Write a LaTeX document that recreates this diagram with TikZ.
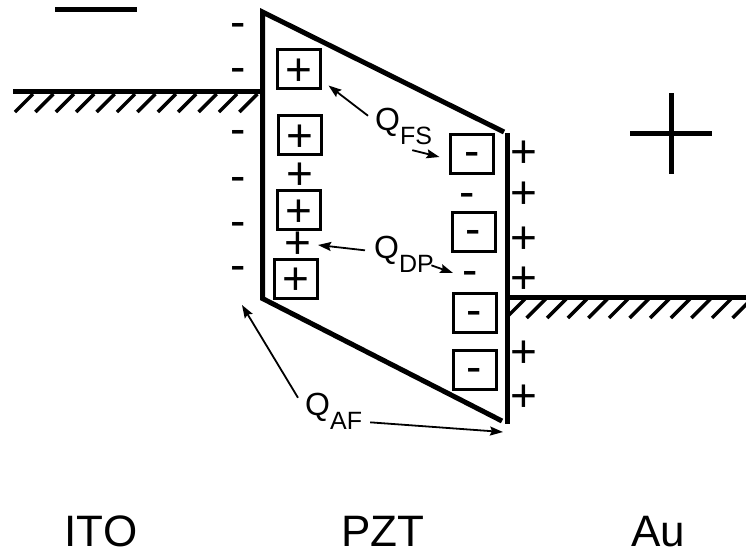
\documentclass[tikz,border=0pt]{standalone}
\usepackage{fontspec}
\setmainfont{Liberation Sans}
\usetikzlibrary{arrows.meta}

% lowered subscript of the charge labels
\newcommand{\qsub}[1]{\raisebox{-14pt}{\fontsize{25}{25}\selectfont #1}}

\tikzset{
  sgn/.style={font=\fontsize{46}{46}\selectfont, inner sep=0pt, outer sep=0pt},
  plussgn/.style={sgn, text height=32pt, text depth=0pt},
  minussgn/.style={sgn, text height=25pt, text depth=0pt},
  chargebox/.style={draw, line width=3pt, minimum width=43pt, minimum height=39pt},
  qlabel/.style={font=\fontsize{32}{32}\selectfont, inner sep=0pt, anchor=base west},
  matlabel/.style={font=\fontsize{44}{44}\selectfont, inner sep=0pt, anchor=base},
  wall/.style={line width=5pt},
  electrode/.style={line width=4.5pt},
  hatch/.style={line width=3.5pt},
  qarrow/.style={->, line width=1.8pt},
}

\begin{document}
\begin{tikzpicture}[x=1pt, y=-1pt, >={Stealth[length=13pt,width=9pt,inset=2pt]}]
  \useasboundingbox (0,0) rectangle (746,552);

  % ITO electrode
  \draw[electrode] (13,91.5) -- (262.5,91.5);
  \foreach \i in {0,...,11}
    \draw[hatch] ({15+20.4*\i},112) -- ++(18,-18);
  % Au electrode
  \draw[electrode] (507,297.5) -- (746,297.5);
  \begin{scope}
    \clip (505,290) rectangle (746,330);
    \foreach \i in {0,...,11}
      \draw[hatch] ({506+20.6*\i},318) -- ++(19,-19);
  \end{scope}

  % PZT layer
  \draw[wall] (504,132) -- (262.5,12) -- (262.5,298.5) -- (502,421);
  \draw[wall] (507,133) -- (507,424);

  % polarity marks
  \draw[wall] (55,9) -- (137,9);
  \draw[wall] (630,133) -- (712,133);
  \draw[wall] (671,93) -- (671,174);

  % bound charges
  \node[chargebox, plussgn] (bp1) at (299,69) {+};
  \node[chargebox, plussgn] (bp2) at (300,135) {+};
  \node[chargebox, plussgn] (bp3) at (299,210) {+};
  \node[chargebox, plussgn] (bp4) at (296,278.5) {+};
  \node[chargebox, minussgn] (bm1) at (472,153.5) {-};
  \node[chargebox, minussgn] (bm2) at (473.5,232) {-};
  \node[chargebox, minussgn] (bm3) at (474.5,312.5) {-};
  \node[chargebox, minussgn] (bm4) at (474.5,370) {-};

  % free charges
  \foreach \y [count=\i] in {25,70,132,179,224,268}
    \node[minussgn] (lm\i) at (238,\y) {-};
  \foreach \y [count=\i] in {151,192.5,237,277.5,351,395}
    \node[plussgn] (rp\i) at (524,\y) {+};
  \node[plussgn] (mp1) at (300,173) {+};
  \node[plussgn] (mp2) at (298,242.5) {+};
  \node[minussgn] (mm1) at (467.5,195) {-};
  \node[minussgn] (mm2) at (470,272.5) {-};

  % charge labels
  \node[qlabel] (qfs) at (375,130) {Q\qsub{FS}};
  \node[qlabel] (qdp) at (374,258) {Q\qsub{DP}};
  \node[qlabel] (qaf) at (305,415) {Q\qsub{AF}};
  \coordinate (afl) at (242,305);
  \coordinate (afr) at (503,432);

  \draw[qarrow] ([shift={(-7,8.3)}]qfs.north west) -- ([shift={(8,-3)}]bp1.south east);
  \draw[qarrow] ([shift={(8.6,5.7)}]qfs.south) -- ([shift={(-11,3.5)}]bm1.west);
  \draw[qarrow] ([shift={(-9,-3.5)}]qdp.west) -- ([shift={(6.6,2.5)}]mp2.east);
  \draw[qarrow] ([shift={(-2.6,11.5)}]qdp.east) -- ([shift={(-9.3,0.5)}]mm2.west);
  \draw[qarrow] ([shift={(-7,5.3)}]qaf.north west) -- (afl);
  \draw[qarrow] ([shift={(8,11.5)}]qaf.east) -- (afr);

  % materials
  \node[matlabel] (ito) at (101,546) {ITO};
  \node[matlabel] (pzt) at (383,546) {PZT};
  \node[matlabel] (au) at (658,546) {Au};
\end{tikzpicture}
\end{document}
